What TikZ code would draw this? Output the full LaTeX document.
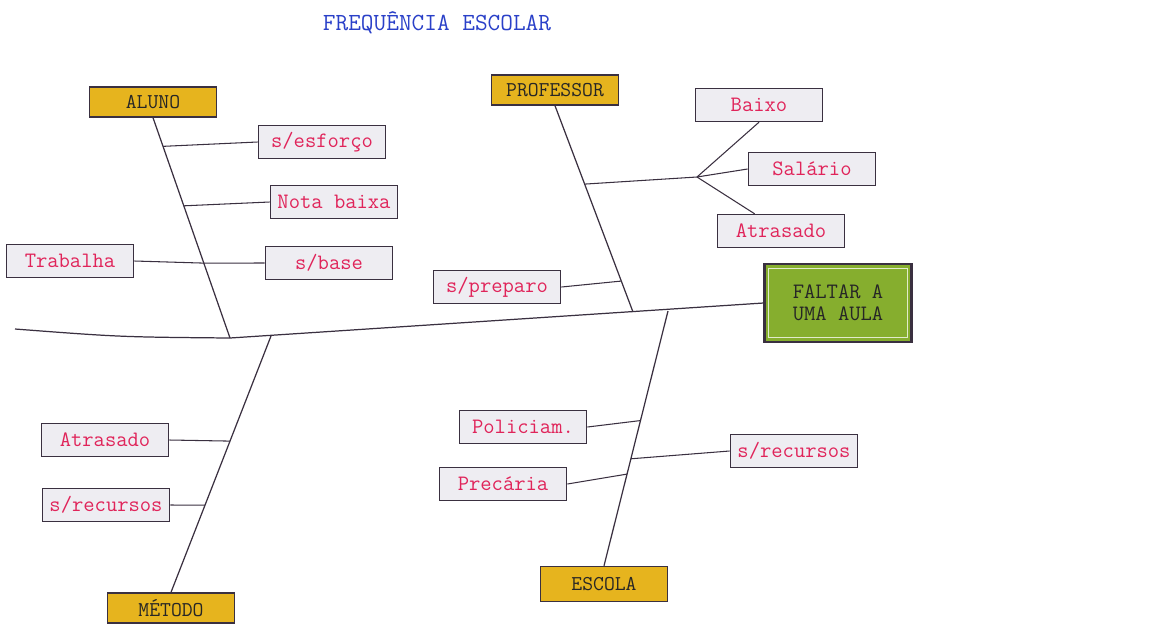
\documentclass[tikz,border=0pt]{standalone}
\usepackage{fontspec}
\usetikzlibrary{calc}

\definecolor{gold}{HTML}{E6B41E}
\definecolor{causefill}{HTML}{EEEDF2}
\definecolor{causetext}{HTML}{E0245A}
\definecolor{edge}{HTML}{3A3040}
\definecolor{headfill}{HTML}{86AE2E}
\definecolor{titleblue}{HTML}{2A40C8}

\tikzset{
  bone/.style={draw=edge, line width=0.7pt},
  twig/.style={draw=edge, line width=0.6pt},
  catbox/.style={draw=edge, line width=0.8pt, fill=gold, font=\ttfamily\fontsize{12}{14}\selectfont,
    text=black!85, minimum width=2.55cm, minimum height=0.6cm, inner sep=1pt},
  causebox/.style={draw=edge, line width=0.8pt, fill=causefill, font=\ttfamily\fontsize{12.5}{14}\selectfont,
    text=causetext, minimum width=2.55cm, minimum height=0.66cm, inner sep=1pt},
}

\begin{document}
\begin{tikzpicture}[x=0.02cm, y=-0.02cm]
  \useasboundingbox (0,0) rectangle (1150,630);

  %% title
  \node[font=\ttfamily\fontsize{14}{16}\selectfont, text=titleblue] (title) at (437,23) {FREQUÊNCIA ESCOLAR};

  %% effect
  \node[draw=edge, line width=1.2pt, fill=headfill, minimum width=2.94cm, minimum height=1.56cm,
    align=center, font=\ttfamily\fontsize{12.5}{12.5}\selectfont, text=black!85] (head) at (838,303)
    {FALTAR A\\UMA AULA};
  \draw[white!75!headfill, line width=0.8pt] ([shift={(3pt,-3pt)}]head.north west) rectangle ([shift={(-3pt,3pt)}]head.south east);

  %% spine
  \coordinate (spL) at (15,329);
  \coordinate (spA) at (230,338);
  \coordinate (spM) at (271,336);
  \coordinate (spP) at (633,312);
  \coordinate (spE) at (668,311);
  \draw[bone] (spL) .. controls (120,337) .. (spA) -- (head.west);

  %% aluno
  \node[catbox] (aluno) at (153,102) {ALUNO};
  \draw[bone] (aluno.south) -- (spA);
  \node[causebox] (esforco) at (322,142) {s/esforço};
  \node[causebox] (nota) at (334,202) {Nota baixa};
  \node[causebox] (base) at (329,263) {s/base};
  \node[causebox] (trabalha) at (70,261) {Trabalha};
  \coordinate (a1) at ($(aluno.south)!.13!(spA)$);
  \coordinate (a2) at ($(aluno.south)!.40!(spA)$);
  \coordinate (a3) at ($(aluno.south)!.66!(spA)$);
  \draw[twig] (a1) -- (esforco.west);
  \draw[twig] (a2) -- (nota.west);
  \draw[twig] (a3) -- (base.west);
  \draw[twig] (trabalha.east) -- (a3);

  %% professor
  \node[catbox] (professor) at (555,90) {PROFESSOR};
  \draw[bone] (professor.south) -- (spP);
  \node[causebox] (baixo) at (759,105) {Baixo};
  \node[causebox] (salario) at (812,169) {Salário};
  \node[causebox] (atrasadoP) at (781,231) {Atrasado};
  \node[causebox] (preparo) at (497,287) {s/preparo};
  \coordinate (p1) at ($(professor.south)!.38!(spP)$);
  \coordinate (p2) at ($(professor.south)!.85!(spP)$);
  \coordinate (pj) at (697,177);
  \draw[twig] (p1) -- (pj) -- (salario.west);
  \draw[twig] (pj) -- (baixo.south);
  \draw[twig] (pj) -- ([xshift=-15]atrasadoP.north);
  \draw[twig] (preparo.east) -- (p2);

  %% metodo
  \node[catbox] (metodo) at (171,608) {MÉTODO};
  \draw[bone] (metodo.north) -- (spM);
  \node[causebox] (atrasadoM) at (105,440) {Atrasado};
  \node[causebox] (recursosM) at (106,505) {s/recursos};
  \coordinate (m1) at ($(spM)!.41!(metodo.north)$);
  \coordinate (m2) at ($(spM)!.66!(metodo.north)$);
  \draw[twig] (atrasadoM.east) -- (m1);
  \draw[twig] (recursosM.east) -- (m2);

  %% escola
  \node[catbox, minimum height=0.7cm] (escola) at (604,584) {ESCOLA};
  \draw[bone] (escola.north) -- (spE);
  \node[causebox] (policiam) at (523,427) {Policiam.};
  \node[causebox] (recursosE) at (794,451) {s/recursos};
  \node[causebox] (precaria) at (503,484) {Precária};
  \coordinate (e1) at ($(spE)!.43!(escola.north)$);
  \coordinate (e2) at ($(spE)!.58!(escola.north)$);
  \coordinate (e3) at ($(spE)!.64!(escola.north)$);
  \draw[twig] (policiam.east) -- (e1);
  \draw[twig] (e2) -- (recursosE.west);
  \draw[twig] (precaria.east) -- (e3);
\end{tikzpicture}
\end{document}
